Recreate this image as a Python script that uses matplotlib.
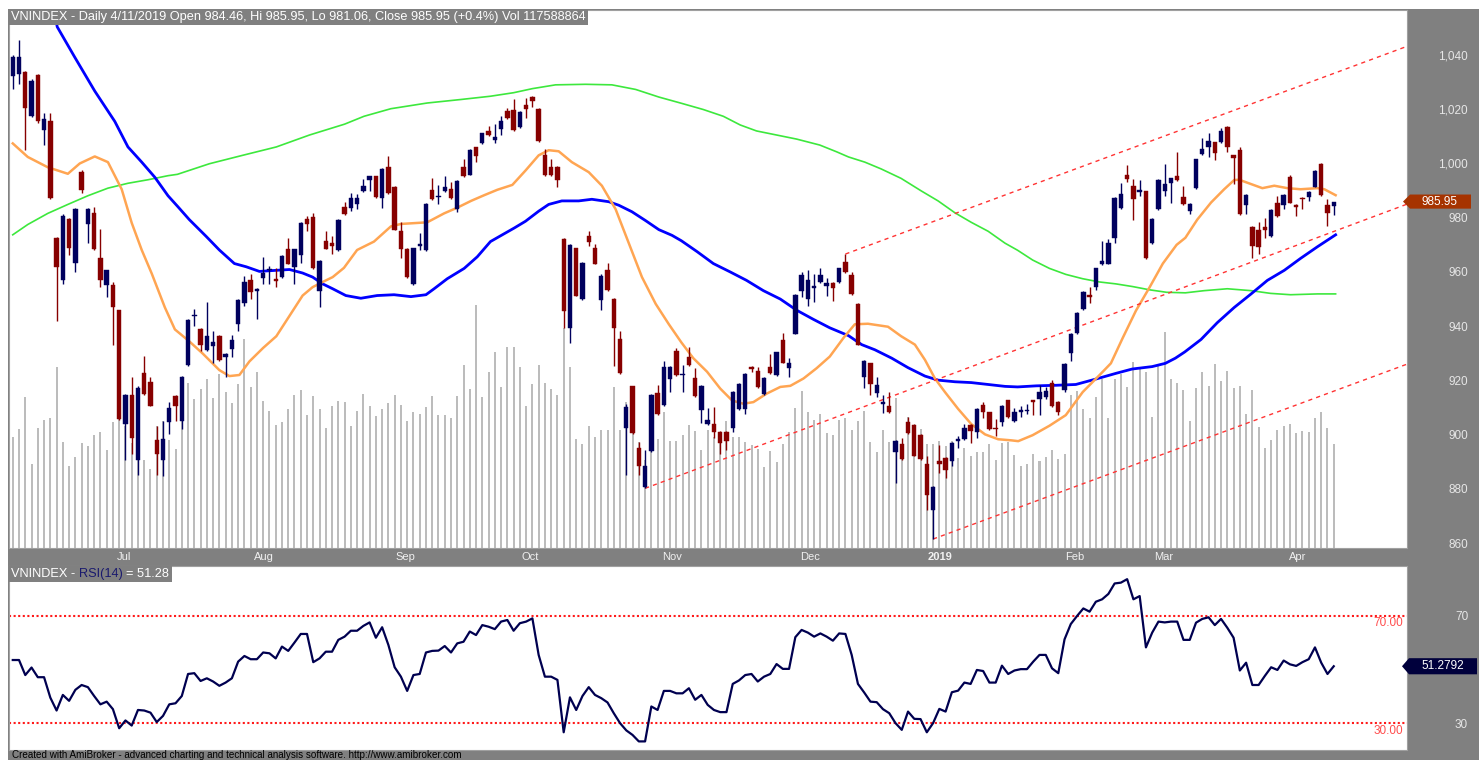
import matplotlib
matplotlib.use("Agg")
import matplotlib.pyplot as plt
import matplotlib.transforms as mtransforms
from matplotlib.patches import Rectangle, Polygon
import numpy as np

plt.rcParams['font.family'] = ['Liberation Sans', 'DejaVu Sans']

# daily bars, bar 0 = mid June 2018, last bar = 4/11/2019
opens = [1032.3, 1032.9, 1033.6, 1017.4, 1032.6, 1012.4, 1015.5, 972.5, 956.9, 979.6,
         963.4, 997.0, 977.5, 981.6, 965.0, 955.3, 955.3, 945.9, 904.1, 914.5,
         890.8, 922.6, 919.5, 898.0, 890.8, 904.5, 914.1, 905.1, 925.7, 943.7,
         939.0, 931.3, 932.8, 936.3, 928.6, 931.6, 940.7, 948.4, 957.1, 952.8,
         957.8, 960.6, 957.5, 958.1, 968.3, 961.9, 966.2, 979.6, 980.3, 952.8,
         971.5, 970.6, 968.1, 983.9, 983.7, 985.2, 989.9, 993.9, 995.2, 987.2,
         998.7, 991.2, 975.0, 968.4, 955.4, 969.4, 968.1, 990.2, 987.5, 989.9,
         990.5, 983.3, 998.7, 995.9, 1005.9, 1007.4, 1012.0, 1008.6, 1012.6, 1019.5,
         1019.9, 1013.6, 1021.4, 1024.6, 1020.2, 1003.3, 998.7, 998.7, 972.2, 939.2,
         968.7, 950.0, 973.1, 968.7, 949.6, 960.6, 950.0, 935.3, 902.3, 917.8,
         894.9, 880.8, 893.9, 915.5, 911.0, 920.5, 930.9, 921.9, 928.8, 920.9,
         909.1, 903.9, 903.9, 901.0, 901.0, 902.6, 909.5, 909.5, 924.8, 923.6,
         915.1, 924.8, 922.0, 934.8, 924.5, 937.3, 952.8, 950.0, 954.1, 956.3,
         955.0, 955.9, 956.3, 963.7, 958.8, 948.2, 921.3, 926.3, 915.5, 911.3,
         910.7, 893.5, 896.6, 904.8, 903.5, 899.8, 889.2, 872.1, 890.2, 891.4,
         890.2, 897.6, 898.5, 903.6, 901.0, 911.0, 908.2, 902.6, 904.8, 912.6,
         905.1, 908.5, 908.6, 912.6, 913.2, 913.8, 919.1, 912.0, 916.4, 930.1,
         937.6, 946.3, 951.6, 954.6, 962.9, 963.1, 972.5, 983.7, 995.9, 991.8,
         989.5, 989.7, 970.6, 983.3, 989.9, 992.7, 995.5, 987.8, 982.5, 990.8,
         1003.6, 1006.1, 1007.8, 1007.8, 1013.6, 1003.0, 1004.9, 984.6, 976.6, 975.3,
         976.6, 973.1, 985.6, 984.6, 994.9, 984.6, 987.4, 987.8, 991.5, 999.7,
         984.6, 984.46]
highs = [1040.0, 1045.4, 1034.0, 1031.0, 1033.0, 1018.6, 1018.6, 973.0, 981.3, 980.0,
         983.6, 997.5, 983.7, 983.9, 975.8, 960.6, 956.3, 946.0, 915.0, 921.3,
         917.8, 929.1, 921.3, 903.3, 905.1, 912.0, 914.5, 921.5, 942.5, 946.5,
         939.3, 948.8, 938.4, 936.6, 930.2, 936.9, 949.9, 958.5, 959.4, 954.0,
         965.6, 962.2, 961.3, 966.2, 972.5, 968.6, 978.4, 980.8, 981.6, 964.4,
         975.0, 973.1, 979.6, 985.8, 989.1, 988.9, 994.3, 995.5, 995.5, 998.2,
         1002.6, 991.8, 978.3, 968.7, 969.0, 974.3, 985.5, 994.5, 992.2, 995.2,
         993.3, 994.0, 1001.8, 1005.2, 1006.2, 1011.4, 1013.9, 1014.5, 1017.4, 1020.5,
         1023.6, 1019.3, 1024.2, 1024.9, 1020.5, 1005.5, 1001.5, 999.0, 972.5, 970.3,
         969.0, 963.7, 975.0, 970.3, 959.4, 963.4, 950.3, 938.4, 911.4, 918.1,
         897.3, 894.3, 915.0, 918.2, 927.2, 925.4, 932.0, 925.7, 932.2, 924.7,
         918.2, 909.7, 910.1, 901.3, 901.3, 916.0, 919.1, 922.6, 925.4, 925.1,
         921.2, 929.7, 930.6, 937.6, 928.4, 951.8, 960.0, 960.6, 959.1, 961.6,
         957.9, 956.2, 961.6, 966.6, 960.0, 948.5, 927.5, 926.6, 921.3, 914.5,
         915.7, 897.9, 898.9, 906.4, 903.8, 900.1, 892.0, 881.1, 896.0, 891.7,
         897.3, 899.5, 903.9, 903.9, 909.8, 912.0, 908.5, 905.7, 911.0, 912.9,
         909.7, 910.7, 911.4, 912.9, 918.2, 917.6, 920.1, 912.3, 926.3, 937.5,
         945.3, 953.1, 954.6, 961.6, 971.5, 972.1, 987.7, 992.8, 999.3, 994.3,
         994.0, 990.0, 979.9, 994.2, 999.9, 994.8, 1004.3, 991.8, 985.3, 1001.8,
         1009.3, 1011.1, 1008.1, 1013.0, 1013.9, 1003.3, 1005.9, 988.7, 976.9, 978.3,
         980.0, 983.1, 988.1, 988.6, 995.9, 984.9, 987.7, 989.9, 997.7, 1000.0,
         986.8, 985.95]
lows = [1027.3, 1029.2, 1004.9, 1017.0, 1015.0, 1006.8, 987.0, 941.9, 955.6, 966.2,
        960.0, 989.0, 970.8, 968.0, 954.4, 950.6, 932.9, 905.5, 890.8, 892.7,
        885.2, 914.8, 910.5, 885.2, 884.6, 900.1, 905.1, 902.0, 925.5, 940.0,
        930.7, 930.7, 926.3, 927.0, 921.3, 928.8, 938.2, 947.5, 950.0, 942.5,
        955.6, 955.6, 954.4, 957.9, 962.8, 955.4, 963.4, 975.0, 961.0, 947.2,
        968.3, 966.6, 967.8, 981.1, 982.4, 983.1, 989.6, 989.9, 987.1, 983.7,
        988.8, 975.3, 965.0, 957.8, 955.1, 968.1, 967.8, 986.5, 984.9, 989.6,
        986.8, 982.1, 994.9, 995.6, 1000.5, 1007.1, 1010.2, 1007.4, 1010.5, 1016.4,
        1012.1, 1013.0, 1016.7, 1020.7, 1008.0, 995.5, 995.5, 991.5, 939.2, 933.8,
        951.0, 949.7, 969.4, 962.8, 945.9, 953.1, 925.4, 922.3, 885.2, 900.2,
        885.2, 880.2, 893.6, 907.3, 910.7, 915.7, 921.6, 915.7, 925.4, 913.9,
        904.3, 903.6, 898.9, 892.7, 894.5, 900.8, 909.2, 907.6, 923.2, 917.3,
        914.5, 922.5, 921.7, 926.3, 921.3, 937.0, 950.9, 947.5, 949.1, 956.0,
        951.3, 949.4, 956.0, 959.7, 951.4, 932.9, 917.2, 914.5, 913.9, 908.0,
        907.9, 882.1, 890.7, 900.2, 892.0, 890.7, 872.1, 861.5, 885.8, 883.9,
        888.6, 895.2, 898.2, 897.0, 898.9, 906.0, 901.7, 899.5, 903.3, 906.1,
        904.8, 906.4, 907.6, 907.2, 907.2, 913.2, 910.1, 907.2, 915.7, 927.0,
        937.3, 945.9, 948.4, 953.4, 962.6, 962.8, 970.6, 983.1, 993.0, 979.3,
        988.1, 964.7, 970.3, 983.0, 988.1, 985.6, 993.6, 984.6, 981.2, 990.5,
        1003.0, 1002.4, 1001.1, 1007.5, 1004.3, 992.4, 980.9, 981.4, 965.0, 966.8,
        972.5, 972.8, 980.3, 983.1, 985.3, 980.6, 983.1, 986.2, 991.2, 988.0,
        977.1, 981.06]
closes = [1039.2, 1039.2, 1020.5, 1030.5, 1015.5, 1016.5, 987.2, 961.9, 980.8, 968.7,
          983.1, 990.2, 983.1, 968.5, 956.9, 960.6, 946.9, 905.8, 914.7, 898.9,
          917.3, 915.1, 910.7, 892.7, 898.3, 909.7, 910.7, 921.3, 942.3, 944.2,
          933.2, 936.3, 934.1, 927.6, 929.9, 935.0, 949.6, 956.3, 952.5, 953.6,
          959.6, 961.1, 956.6, 965.9, 963.1, 968.3, 978.1, 977.7, 961.3, 964.1,
          968.6, 969.4, 979.3, 981.4, 987.4, 987.1, 991.8, 995.2, 987.8, 997.9,
          989.1, 975.6, 968.4, 958.1, 968.7, 970.4, 985.2, 986.8, 988.1, 991.4,
          987.1, 993.7, 995.2, 1004.9, 1002.6, 1011.1, 1010.5, 1009.6, 1015.5, 1016.7,
          1012.4, 1019.0, 1020.2, 1023.2, 1008.3, 995.8, 995.8, 993.9, 945.7, 970.0,
          951.3, 963.4, 971.2, 963.1, 958.4, 953.4, 939.4, 922.6, 910.1, 900.5,
          888.6, 888.6, 914.7, 907.6, 924.8, 925.1, 921.9, 922.4, 925.7, 914.2,
          917.9, 905.5, 900.8, 896.8, 897.7, 915.7, 918.8, 922.3, 924.2, 917.6,
          920.9, 922.8, 930.3, 926.6, 926.3, 951.5, 958.8, 957.1, 954.7, 958.8,
          955.9, 954.0, 961.3, 960.0, 951.7, 933.2, 927.2, 918.8, 918.2, 911.9,
          908.2, 897.6, 891.0, 900.5, 892.3, 891.0, 877.9, 880.8, 889.2, 887.0,
          897.0, 898.3, 902.6, 901.4, 909.5, 908.2, 902.0, 902.0, 910.7, 906.4,
          908.2, 909.1, 909.1, 912.0, 915.7, 916.0, 910.4, 908.2, 926.0, 937.2,
          945.0, 952.5, 950.6, 961.3, 964.1, 970.6, 987.4, 988.7, 994.3, 986.8,
          990.1, 965.0, 979.6, 993.9, 992.4, 994.5, 993.9, 984.9, 985.0, 1001.5,
          1005.3, 1008.4, 1004.0, 1012.0, 1006.1, 1002.0, 981.2, 988.4, 969.6, 969.3,
          975.6, 982.8, 980.6, 988.3, 985.6, 984.1, 986.8, 989.3, 997.4, 988.3,
          981.6, 985.95]
# volume in millions of shares
volumes = [125, 134, 171, 95, 136, 145, 147, 204, 120, 93,
           103, 119, 115, 128, 131, 111, 142, 147, 138, 119,
           104, 100, 89, 138, 144, 122, 112, 146, 186, 168,
           180, 191, 170, 197, 176, 164, 185, 236, 182, 199,
           166, 155, 139, 142, 157, 173, 178, 150, 172, 157,
           136, 161, 166, 165, 138, 155, 174, 160, 149, 157,
           164, 173, 162, 143, 154, 151, 159, 172, 150, 150,
           147, 172, 207, 180, 275, 171, 199, 221, 182, 227,
           227, 204, 160, 185, 207, 187, 180, 173, 249, 204,
           123, 118, 138, 126, 133, 133, 182, 133, 165, 140,
           120, 100, 120, 123, 154, 121, 121, 128, 139, 132,
           111, 133, 125, 119, 143, 126, 126, 120, 116, 112,
           91, 110, 97, 118, 131, 158, 177, 154, 145, 152,
           130, 128, 145, 147, 133, 144, 155, 120, 108, 133,
           120, 169, 112, 148, 131, 135, 117, 118, 121, 115,
           121, 102, 113, 104, 108, 108, 118, 99, 119, 120,
           105, 93, 95, 106, 98, 103, 111, 101, 106, 173,
           177, 157, 147, 171, 191, 147, 191, 197, 182, 210,
           203, 199, 148, 207, 244, 191, 187, 178, 143, 181,
           199, 183, 208, 189, 200, 181, 183, 152, 178, 137,
           113, 122, 133, 138, 140, 130, 132, 131, 147, 154,
           136, 118]
rsi = [53.6, 53.6, 48.0, 50.8, 47.2, 47.2, 39.6, 34.8, 40.6, 38.4,
       42.5, 44.3, 43.5, 40.2, 37.1, 38.1, 35.3, 28.2, 31.1, 29.2,
       35.0, 34.8, 34.0, 30.5, 32.8, 37.1, 37.5, 40.2, 48.4, 48.7,
       45.8, 46.8, 45.6, 44.0, 45.2, 46.8, 53.0, 55.1, 53.9, 53.9,
       56.4, 56.1, 54.2, 58.6, 57.0, 60.1, 63.3, 63.3, 52.8, 54.2,
       56.7, 56.7, 61.1, 62.3, 64.5, 64.5, 66.3, 67.6, 61.9, 65.8,
       59.2, 50.9, 47.4, 42.1, 48.0, 48.4, 56.4, 57.0, 57.1, 58.8,
       56.4, 59.8, 60.4, 64.2, 62.9, 66.6, 66.0, 65.1, 67.9, 68.5,
       64.5, 67.3, 67.9, 69.1, 55.5, 47.4, 47.4, 46.2, 26.7, 39.7,
       35.0, 40.2, 43.5, 40.6, 39.4, 37.8, 33.8, 30.1, 27.4, 25.7,
       23.3, 23.3, 36.3, 35.0, 42.1, 42.1, 41.2, 41.2, 43.1, 38.8,
       40.6, 36.9, 35.0, 34.2, 34.2, 44.7, 46.0, 48.0, 48.4, 45.6,
       47.4, 48.4, 52.1, 50.3, 50.3, 62.1, 64.8, 63.8, 62.3, 63.5,
       62.3, 60.8, 63.5, 63.3, 55.5, 44.7, 41.5, 38.1, 37.9, 35.3,
       33.8, 30.1, 27.6, 34.4, 31.7, 31.6, 26.7, 30.1, 35.4, 34.4,
       41.6, 42.2, 45.2, 44.7, 49.9, 49.5, 45.2, 45.2, 51.5, 48.4,
       49.7, 50.2, 50.2, 53.0, 55.5, 55.5, 50.5, 48.7, 61.3, 67.0,
       70.0, 72.8, 71.6, 75.3, 76.2, 78.2, 82.1, 82.4, 83.7, 76.2,
       77.4, 58.3, 63.8, 67.9, 67.6, 67.9, 67.9, 61.1, 61.1, 67.5,
       68.9, 69.5, 66.6, 68.9, 65.6, 61.9, 49.7, 52.6, 44.3, 44.3,
       47.7, 50.9, 49.9, 53.4, 52.0, 51.4, 52.8, 53.9, 58.3, 52.6,
       48.4, 51.28]

# moving averages, sampled along the drawn lines (x = bar position)
ma_fast_x = [0.0, 2.4, 5.6, 7.2, 8.8, 10.7, 13.1, 15.2, 17.4, 19.0,
             20.6, 22.2, 24.3, 25.9, 28.2, 30.3, 33.0, 34.6, 36.2, 37.8,
             40.0, 42.1, 44.2, 46.3, 47.9, 49.5, 51.1, 52.9, 55.0, 57.7,
             60.4, 62.0, 66.2, 68.9, 71.0, 73.2, 75.3, 77.4, 79.8, 81.9,
             84.0, 85.6, 87.2, 89.3, 92.0, 94.1, 96.3, 98.4, 100.5, 102.7,
             104.8, 106.8, 108.7, 110.9, 113.0, 114.9, 116.7, 118.3, 120.4, 122.6,
             124.2, 126.3, 128.4, 130.5, 132.7, 134.5, 136.6, 139.8, 141.9, 144.1,
             145.7, 147.3, 148.9, 151.0, 153.1, 155.3, 157.4, 159.5, 160.6, 162.9,
             165.6, 168.2, 170.9, 173.6, 175.4, 177.3, 179.4, 181.6, 183.7, 185.9,
             187.3, 189.2, 191.4, 193.5, 195.1, 195.9, 197.8, 199.6, 201.5, 203.6,
             205.7, 208.4, 209.5, 211.3]
ma_fast = [1007.4, 1002.4, 998.6, 997.4, 996.2, 1000.0, 1002.6, 1000.5, 990.5, 978.1,
           968.1, 959.4, 946.9, 938.8, 934.4, 930.0, 923.8, 921.6, 922.0, 927.0,
           932.0, 936.3, 943.8, 951.3, 954.4, 956.3, 958.1, 961.5, 968.1, 971.2,
           976.8, 977.7, 978.3, 981.6, 983.7, 986.2, 988.3, 990.3, 992.1, 997.4,
           1003.0, 1004.9, 1004.5, 1000.5, 996.8, 991.8, 983.1, 970.6, 958.1, 948.2,
           940.7, 934.0, 928.2, 923.2, 917.0, 912.6, 911.4, 912.0, 915.1, 917.6,
           918.0, 920.7, 924.5, 928.8, 935.7, 940.7, 940.9, 939.8, 936.3, 933.2,
           927.6, 920.7, 915.7, 909.5, 903.9, 900.1, 898.3, 897.9, 897.6, 899.8,
           903.3, 907.2, 915.7, 922.0, 926.3, 935.7, 945.7, 954.4, 963.1, 970.0,
           972.6, 979.3, 985.6, 990.5, 993.9, 994.0, 992.4, 990.9, 991.8, 990.9,
           990.5, 990.9, 990.5, 988.3]
ma_mid_x = [6.5, 7.1, 9.9, 13.1, 16.3, 18.4, 20.6, 22.7, 24.8, 26.4,
            28.2, 30.9, 33.0, 35.4, 37.3, 39.4, 42.1, 44.2, 46.3, 47.9,
            49.5, 51.1, 53.2, 55.6, 58.2, 60.9, 63.6, 66.0, 67.3, 69.4,
            72.1, 74.2, 76.3, 78.5, 80.1, 81.9, 84.0, 85.6, 87.7, 90.4,
            92.5, 95.2, 96.8, 98.9, 101.1, 103.2, 105.3, 106.8, 109.3, 111.9,
            114.6, 117.2, 119.9, 122.6, 125.2, 127.9, 130.5, 133.5, 135.6, 137.7,
            140.4, 143.0, 145.7, 147.8, 150.5, 153.1, 155.8, 158.5, 160.5, 163.5,
            166.6, 169.8, 173.0, 176.2, 178.8, 182.0, 184.1, 185.7, 187.2, 189.8,
            192.4, 195.1, 197.8, 200.4, 203.1, 205.7, 208.4, 211.3]
ma_mid = [1057.5, 1050.4, 1039.2, 1026.7, 1015.5, 1006.1, 1000.5, 994.9, 988.1, 984.0,
          979.3, 973.1, 968.1, 963.1, 961.9, 960.2, 960.6, 960.9, 959.6, 958.1,
          955.6, 953.8, 951.3, 950.3, 951.3, 951.6, 950.9, 951.6, 953.8, 957.5,
          961.3, 965.6, 971.2, 974.1, 976.2, 978.7, 982.4, 984.9, 986.2, 986.2,
          986.8, 985.9, 984.6, 982.2, 978.9, 975.6, 973.5, 971.5, 967.5, 963.1,
          960.0, 956.9, 953.1, 950.0, 945.9, 942.5, 939.4, 936.5, 933.2, 931.3,
          928.2, 924.7, 921.6, 920.1, 919.5, 919.2, 918.5, 917.8, 917.6, 918.0,
          918.2, 918.5, 920.5, 922.6, 924.2, 925.1, 926.3, 928.2, 930.5, 935.1,
          941.3, 946.9, 951.9, 956.9, 960.6, 965.0, 969.3, 973.7]
ma_slow_x = [0.0, 2.4, 5.6, 8.8, 12.0, 15.2, 18.4, 21.6, 24.8, 26.3,
             31.4, 36.7, 42.1, 47.4, 53.0, 56.1, 60.4, 66.2, 71.6, 76.3,
             80.0, 83.0, 86.7, 91.5, 95.7, 99.5, 103.2, 106.8, 110.3, 113.5,
             116.2, 118.8, 122.0, 125.2, 128.9, 131.6, 133.5, 136.1, 138.7, 141.9,
             145.1, 147.8, 150.5, 153.1, 155.8, 158.5, 160.5, 162.9, 165.6, 168.2,
             170.9, 173.6, 176.2, 178.9, 181.6, 184.3, 187.3, 190.3, 194.0, 197.8,
             200.9, 204.1, 208.4, 211.3]
ma_slow = [973.7, 977.5, 981.6, 984.9, 988.1, 990.9, 992.7, 994.0, 995.5, 996.0,
           999.9, 1003.0, 1006.1, 1010.5, 1014.5, 1017.4, 1020.2, 1022.3, 1023.6, 1024.8,
           1026.1, 1027.6, 1029.0, 1029.2, 1029.0, 1027.3, 1024.5, 1022.2, 1019.9, 1017.4,
           1014.2, 1012.0, 1010.5, 1009.0, 1006.8, 1004.3, 1002.4, 1000.5, 998.0, 994.5,
           989.9, 986.2, 981.8, 978.3, 975.0, 970.6, 968.0, 964.4, 961.3, 959.1,
           957.5, 956.3, 955.6, 954.6, 953.4, 952.5, 952.3, 953.1, 953.8, 953.1,
           952.1, 951.6, 951.9, 951.9]

# channel lines: start point (bar, price) and price at the right edge
chan_x0 = [133, 101, 147]
chan_y0 = [966.6, 880.2, 861.5]
chan_x1 = 222.7
chan_y1 = [1043.2, 985.0, 926.0]

month_pos = [17.8, 40.1, 62.7, 82.6, 105.3, 127.4, 148.1, 169.7, 183.9, 205.3]
month_lab = ['Jul', 'Aug', 'Sep', 'Oct', 'Nov', 'Dec', '2019', 'Feb', 'Mar', 'Apr']
price_ticks = [860, 880, 900, 920, 940, 960, 980, 1000, 1020, 1040]

header = ("VNINDEX - Daily 4/11/2019 Open 984.46, Hi 985.95, Lo 981.06, "
          "Close 985.95 (+0.4%) Vol 117588864")
footer = ("Created with AmiBroker - advanced charting and technical analysis "
          "software. http://www.amibroker.com")

W, H = 1479.0, 760.0
GRAY = '#808080'


def fx(px):
    return px / W


def fy(py):
    return 1 - py / H


fig = plt.figure(figsize=(W / 100, H / 100), dpi=100)
fig.patch.set_facecolor('white')
fig.add_artist(Rectangle((fx(8), 0), 1 - fx(8), fy(9), transform=fig.transFigure,
                         facecolor=GRAY, edgecolor='none', zorder=-1))

L, R = 9, 1407
ax_vol = fig.add_axes([fx(L), fy(548), fx(R) - fx(L), (548 - 10) / H])
ax = ax_vol.twinx()
ax_rsi = fig.add_axes([fx(L), fy(750), fx(R) - fx(L), (750 - 566) / H])

x = np.arange(len(closes))
o = np.array(opens)
h = np.array(highs)
l = np.array(lows)
c = np.array(closes)

# volume in the background
ax_vol.set_facecolor('white')
ax_vol.bar(x, volumes, width=0.32, color='#bcbcbc', zorder=1)
ax_vol.set_ylim(0, 608)
ax_vol.set_xlim(-0.6, 222.7)
ax_vol.set_yticks([])
ax_vol.set_xticks([])
for s in ax_vol.spines.values():
    s.set_color('#a0a0a0')
    s.set_linewidth(0.8)

# moving averages and channel
ax.plot(ma_slow_x, ma_slow, color='#3de83d', lw=1.2, zorder=2)
ax.plot(ma_mid_x, ma_mid, color='#0000ff', lw=2.0, zorder=2)
ax.plot(ma_fast_x, ma_fast, color='#ffa552', lw=1.8, zorder=2)
for x0, y0, y1 in zip(chan_x0, chan_y0, chan_y1):
    ax.plot([x0, chan_x1], [y0, y1], color='#ff3333', lw=1.0,
            linestyle=(0, (3, 3)), zorder=2)

# candles
up = c >= o
cols = np.where(up, '#00005e', '#870000')
ax.vlines(x, l, h, colors=cols, linewidth=1.0, zorder=3)
ax.bar(x, np.maximum(np.abs(c - o), 0.35), bottom=np.minimum(o, c), width=0.7,
       color=cols, edgecolor=cols, linewidth=0.3, zorder=4)

ax.set_ylim(858.2, 1056.6)
ax.set_yticks(price_ticks)
ax.set_yticklabels(['{:,}'.format(t) for t in price_ticks])
ax.tick_params(axis='y', length=0, pad=44, labelcolor='#e6e6e6', labelsize=8.5)
for lab in ax.get_yticklabels():
    lab.set_ha('right')
for s in ax.spines.values():
    s.set_visible(False)

# last price tag
blend = mtransforms.blended_transform_factory(fig.transFigure, ax.transData)
last = closes[-1]
hh = 2.6
ax.add_patch(Polygon([(fx(1403), last), (fx(1410), last + hh), (fx(1471), last + hh),
                      (fx(1471), last - hh), (fx(1410), last - hh)],
                     closed=True, transform=blend, facecolor='#a63300',
                     edgecolor='none', clip_on=False, zorder=5))
ax.text(fx(1440), last, '{:.2f}'.format(last), transform=blend, ha='center',
        va='center', color='white', fontsize=8.5, zorder=6)

# header
fig.text(fx(11), fy(17), header, fontsize=9.2, color='white', ha='left', va='center',
         bbox=dict(boxstyle='square,pad=0.15', fc=GRAY, ec='none'))

# month labels
blend_x = mtransforms.blended_transform_factory(ax_vol.transData, fig.transFigure)
for pos, lab in zip(month_pos, month_lab):
    ax_vol.text(pos, fy(557), lab, transform=blend_x, ha='center', va='center',
                fontsize=8, color='#f0f0f0',
                fontweight='bold' if lab == '2019' else 'normal', clip_on=False)

# RSI panel
ax_rsi.set_facecolor('white')
ax_rsi.plot(x, rsi, color='#000050', lw=1.6, zorder=3)
ax_rsi.axhline(70, color='#ff1a1a', lw=1.5, linestyle=(0, (1, 1.2)), zorder=2)
ax_rsi.axhline(30, color='#ff1a1a', lw=1.5, linestyle=(0, (1, 1.2)), zorder=2)
ax_rsi.set_xlim(-0.6, 222.7)
ax_rsi.set_ylim(20.1, 88.6)
ax_rsi.set_xticks([])
ax_rsi.yaxis.tick_right()
ax_rsi.set_yticks([30, 70])
ax_rsi.set_yticklabels(['30', '70'])
ax_rsi.tick_params(axis='y', length=0, pad=44, labelcolor='#e6e6e6', labelsize=8.5)
for lab in ax_rsi.get_yticklabels():
    lab.set_ha('right')
for s in ax_rsi.spines.values():
    s.set_color('#a0a0a0')
    s.set_linewidth(0.8)

blend_r = mtransforms.blended_transform_factory(fig.transFigure, ax_rsi.transData)
ax_rsi.text(fx(1403), 67.4, '70.00', transform=blend_r, ha='right', va='center',
            color='#ff4d4d', fontsize=8.5)
ax_rsi.text(fx(1403), 27.2, '30.00', transform=blend_r, ha='right', va='center',
            color='#ff4d4d', fontsize=8.5)

last_rsi = rsi[-1]
rh = 3.0
ax_rsi.add_patch(Polygon([(fx(1402), last_rsi), (fx(1409), last_rsi + rh),
                          (fx(1477), last_rsi + rh), (fx(1477), last_rsi - rh),
                          (fx(1409), last_rsi - rh)],
                         closed=True, transform=blend_r, facecolor='#00003c',
                         edgecolor='none', clip_on=False, zorder=5))
ax_rsi.text(fx(1443), last_rsi, '51.2792', transform=blend_r, ha='center',
            va='center', color='white', fontsize=8.5, zorder=6)

# RSI title: three coloured pieces on one gray strip
r = fig.canvas.get_renderer()
gap = 3.3
t1 = fig.text(fx(11), fy(574), 'VNINDEX -', fontsize=9.2, color='white',
              ha='left', va='center', zorder=3)
bb = t1.get_window_extent(renderer=r)
t2 = fig.text((bb.x1 + gap) / W, fy(574), 'RSI(14)', fontsize=9.2, color='#1a1a6e',
              ha='left', va='center', zorder=3)
bb = t2.get_window_extent(renderer=r)
t3 = fig.text((bb.x1 + gap) / W, fy(574), '= 51.28', fontsize=9.2, color='white',
              ha='left', va='center', zorder=3)
bb = t3.get_window_extent(renderer=r)
fig.add_artist(Rectangle((fx(9), fy(582)), (bb.x1 + 3) / W - fx(9), 16 / H,
                         transform=fig.transFigure, facecolor=GRAY,
                         edgecolor='none', zorder=2))

fig.text(fx(12), fy(755), footer, fontsize=7.1, color='black', ha='left', va='center')

plt.savefig("out.png", dpi=100, facecolor=fig.get_facecolor())
